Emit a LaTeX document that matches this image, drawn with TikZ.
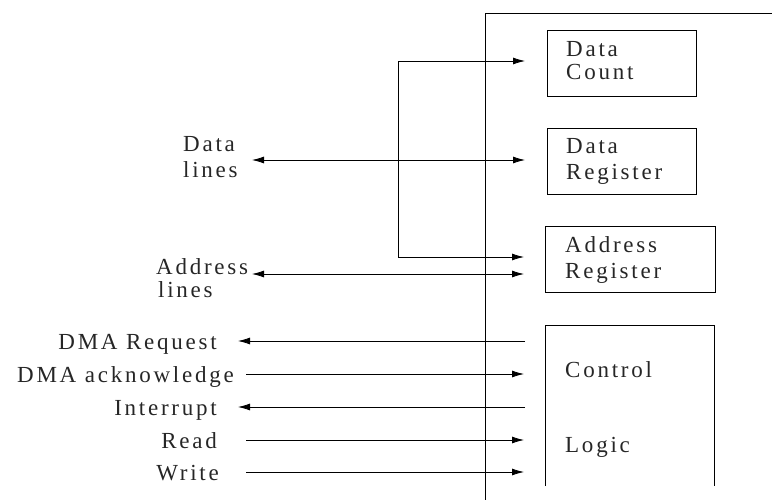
\documentclass[tikz,border=0pt]{standalone}
\usepackage{fontspec}
\setmainfont[LetterSpace=12]{Liberation Serif}
\usetikzlibrary{arrows.meta}
\begin{document}
\begin{tikzpicture}[x=1pt,y=-1pt,
  every node/.style={font=\fontsize{23}{27}\selectfont, inner sep=0pt, text=black!85},
  reg/.style={draw, line width=0.8pt, minimum width=149pt, minimum height=66pt},
  lbl/.style={anchor=base west},
  sig/.style={anchor=base east},
  conn/.style={line width=0.8pt},
  tip/.style={-{Latex[length=12pt,width=7pt]}},
  tipboth/.style={{Latex[length=12pt,width=7pt]}-{Latex[length=12pt,width=7pt]}}
]
\useasboundingbox (0,0) rectangle (772,500);
% outer frame
\coordinate (fb) at (485,500);
\coordinate (ft) at (485,13);
\coordinate (fr) at (772,13);
\draw[conn] (fb) -- (ft) -- (fr);
% registers
\node[reg] (dc) at (621.5,63) {};
\node[reg] (dr) at (621.5,161) {};
\node[reg, minimum width=170pt] (ar) at (630,259) {};
\coordinate (clb) at (545,486);
\coordinate (clt) at (545,325);
\coordinate (crt) at (714,325);
\coordinate (crb) at (714,486);
\draw[conn] (clb) -- (clt) -- (crt) -- (crb);
% register texts
\node[lbl] (dct1) at (566,57) {Data};
\node[lbl] (dct2) at (566,80) {Count};
\node[lbl] (drt1) at (566,154) {Data};
\node[lbl] (drt2) at (566,180) {Register};
\node[lbl] (art1) at (565,252) {Address};
\node[lbl] (art2) at (565,278) {Register};
\node[lbl] (clt1) at (565,377) {Control};
\node[lbl] (clt2) at (565,452) {Logic};
% left labels
\node[lbl] (dl1) at (183,152) {Data};
\node[lbl] (dl2) at (183,178) {lines};
\node[lbl] (al1) at (156,275) {Address};
\node[lbl] (al2) at (158,298) {lines};
\node[sig] (s1) at (217,349) {DMA Request};
\node[sig] (s2) at (234,382) {DMA acknowledge};
\node[sig] (s3) at (217,415) {Interrupt};
\node[sig] (s4) at (217,448) {Read};
\node[sig] (s5) at (219,480) {Write};
% connector coordinates
\coordinate (cA) at (525,61);
\coordinate (cB) at (398,61);
\coordinate (cC) at (398,257);
\coordinate (cD) at (524,257);
\coordinate (dL) at (252,160);
\coordinate (dR) at (525,160);
\coordinate (aL) at (252,274);
\coordinate (aR) at (524,274);
\coordinate (r1L) at (238,341); \coordinate (r1R) at (525,341);
\coordinate (r2L) at (246,374); \coordinate (r2R) at (524,374);
\coordinate (r3L) at (238,407); \coordinate (r3R) at (525,407);
\coordinate (r4L) at (246,440); \coordinate (r4R) at (524,440);
\coordinate (r5L) at (246,472); \coordinate (r5R) at (524,472);
% connectors
\draw[conn, tipboth] (cA) -- (cB) -- (cC) -- (cD);
\draw[conn, tipboth] (dL) -- (dR);
\draw[conn, tipboth] (aL) -- (aR);
\draw[conn, tip] (r1R) -- (r1L);
\draw[conn, tip] (r2L) -- (r2R);
\draw[conn, tip] (r3R) -- (r3L);
\draw[conn, tip] (r4L) -- (r4R);
\draw[conn, tip] (r5L) -- (r5R);
\end{tikzpicture}
\end{document}
